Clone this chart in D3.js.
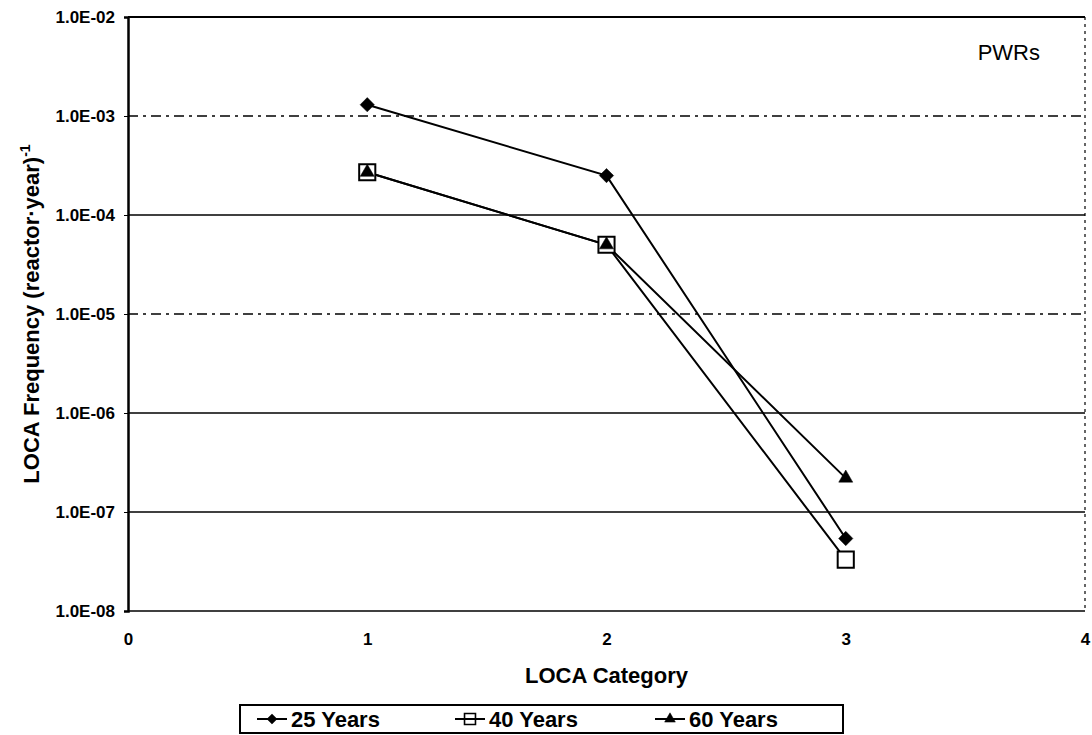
<!DOCTYPE html>
<html>
<head>
<meta charset="utf-8">
<script src="https://cdnjs.cloudflare.com/ajax/libs/d3/7.8.5/d3.min.js"></script>
<style>
body{margin:0;background:#fff;}
text{font-family:'Liberation Sans',Arial,sans-serif;fill:#000;}
</style>
</head>
<body>
<script>
var margin={top:17,bottom:124,left:128,right:7},
	WIDTH=1092-margin.left-margin.right,
	HEIGHT=735-margin.top-margin.bottom

// data
var categories=[1,2,3]
var years25=[1.3e-3,2.5e-4,5.4e-8]
var years40=[2.7e-4,5.0e-5,3.3e-8]
var years60=[2.7e-4,5.0e-5,2.2e-7]
var seriesNames=['25 Years','40 Years','60 Years']
var yTicks=[1e-8,1e-7,1e-6,1e-5,1e-4,1e-3,1e-2]
var yTickLabels=['1.0E-08','1.0E-07','1.0E-06','1.0E-05','1.0E-04','1.0E-03','1.0E-02']
var xTicks=[0,1,2,3,4]

var xScale=d3.scaleLinear()
		.domain([0,4])
		.range([0,WIDTH])
var yScale=d3.scaleLog()
		.domain([1e-8,1e-2])
		.range([HEIGHT,0])

var svg=d3.select('body')
		.append('svg')
		.attr('width',1092)
		.attr('height',735)

var g=svg.append('g')
		.attr('transform','translate('+margin.left+','+margin.top+')')

// gridlines (some look broken up in the scan)
var brokenLines=[1e-3,1e-5]
g.selectAll('.grid').data(yTicks.slice(1,-1))
	.enter()
	.append('line')
	.classed('grid',true)
	.attr('x1',0)
	.attr('x2',WIDTH)
	.attr('y1',function(d){return yScale(d)})
	.attr('y2',function(d){return yScale(d)})
	.attr('stroke','#000')
	.attr('stroke-width',1.6)
	.attr('stroke-dasharray',function(d){
		return brokenLines.indexOf(d)>=0 ? '10,5,3,5' : null
	})

// frame
g.append('line').attr('x1',0).attr('x2',WIDTH).attr('y1',0).attr('y2',0)
	.attr('stroke','#000').attr('stroke-width',2)
g.append('line').attr('x1',0).attr('x2',WIDTH).attr('y1',HEIGHT).attr('y2',HEIGHT)
	.attr('stroke','#000').attr('stroke-width',1.6)
g.append('line').attr('x1',WIDTH).attr('x2',WIDTH).attr('y1',0).attr('y2',HEIGHT)
	.attr('stroke','#000').attr('stroke-width',1.2).attr('stroke-dasharray','3,4')

var yAxis=d3.axisLeft(yScale)
		.tickValues(yTicks)
		.tickFormat(function(d,i){return yTickLabels[i]})
		.tickSize(4)
		.tickPadding(9)
var yGuide=g.append('g').call(yAxis)
yGuide.select('.domain').attr('stroke-width',2.5)
yGuide.selectAll('text').style('font-size','17px').style('font-weight','bold')

var xAxis=d3.axisBottom(xScale)
		.tickValues(xTicks)
		.tickFormat(d3.format('d'))
		.tickSize(0)
		.tickPadding(22)
var xGuide=g.append('g').attr('transform','translate(0,'+HEIGHT+')').call(xAxis)
xGuide.select('.domain').remove()
xGuide.selectAll('text').style('font-size','17px').style('font-weight','bold')

// series
var series=[years25,years40,years60]
var line=d3.line()
		.x(function(d,i){return xScale(categories[i])})
		.y(function(d){return yScale(d)})

series.forEach(function(s){
	g.append('path')
		.datum(s)
		.attr('d',line)
		.attr('fill','none')
		.attr('stroke','#000')
		.attr('stroke-width',2)
})

var diamond=d3.symbol().type(d3.symbolDiamond2).size(130)
var square=d3.symbol().type(d3.symbolSquare).size(260)
var triangle=d3.symbol().type(d3.symbolTriangle).size(85)

function drawMarks(s,sym,fill,cls){
	g.selectAll('.'+cls).data(s)
		.enter()
		.append('path')
		.classed(cls,true)
		.attr('d',sym)
		.attr('transform',function(d,i){
			return 'translate('+xScale(categories[i])+','+yScale(d)+')'
		})
		.attr('fill',fill)
		.attr('stroke','#000')
		.attr('stroke-width',fill=='#fff'?2:0.5)
}
drawMarks(years25,diamond,'#000','m25')
drawMarks(years40,square,'#fff','m40')
drawMarks(years60,triangle,'#000','m60')

g.append('text')
	.text('PWRs')
	.attr('x',WIDTH-45)
	.attr('y',43)
	.attr('text-anchor','end')
	.style('font-size','22px')

// axis titles
svg.append('text')
	.attr('text-anchor','middle')
	.attr('transform','translate('+(margin.left+WIDTH/2)+',683)')
	.style('font-size','22px')
	.style('font-weight','bold')
	.text('LOCA Category')

var yLabel=svg.append('text')
	.attr('text-anchor','middle')
	.attr('transform','translate(39,'+(margin.top+HEIGHT/2)+') rotate(-90)')
	.style('font-size','22px')
	.style('font-weight','bold')
yLabel.append('tspan').text('LOCA Frequency (reactor\u00b7year)')
yLabel.append('tspan').attr('dy',-9).style('font-size','14px').text('-1')

// legend
var legendX=240, legendY=705, legendW=603, legendH=28
var legend=svg.append('g')
legend.append('rect')
	.attr('x',legendX).attr('y',legendY)
	.attr('width',legendW).attr('height',legendH)
	.attr('fill','#fff').attr('stroke','#000').attr('stroke-width',2)

var symbols=[d3.symbol().type(d3.symbolDiamond2).size(65),
	d3.symbol().type(d3.symbolSquare).size(120),
	d3.symbol().type(d3.symbolTriangle).size(50)]
var fills=['#000','none','#000']
var itemX=[257,455,655]

seriesNames.forEach(function(name,i){
	var item=legend.append('g')
		.attr('transform','translate('+itemX[i]+','+(legendY+legendH/2)+')')
	item.append('line').attr('x1',0).attr('x2',30).attr('y1',0).attr('y2',0)
		.attr('stroke','#000').attr('stroke-width',2)
	item.append('path').attr('d',symbols[i]).attr('transform','translate(15,0)')
		.attr('fill',fills[i]).attr('stroke','#000').attr('stroke-width',fills[i]=='none'?1.6:0.5)
	item.append('text').text(name)
		.attr('x',34).attr('y',8)
		.style('font-size','22px').style('font-weight','bold')
})
</script>
</body>
</html>
